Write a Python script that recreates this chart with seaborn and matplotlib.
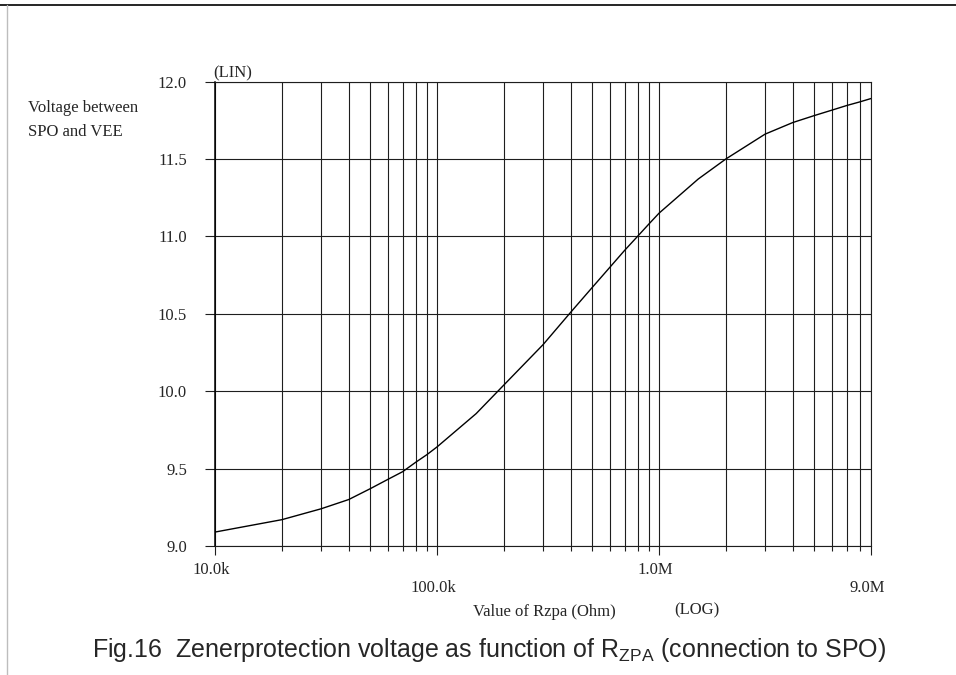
import numpy as np
import pandas as pd
import matplotlib
matplotlib.use("Agg")
import matplotlib.pyplot as plt
import seaborn as sns
from matplotlib.lines import Line2D

# Zener protection voltage (SPO to VEE) versus series resistor Rzpa
r_zpa = [10e3, 20e3, 30e3, 40e3, 50e3, 60e3, 70e3, 80e3, 90e3,
         100e3, 150e3, 200e3, 300e3, 400e3, 500e3, 600e3, 700e3, 800e3, 900e3,
         1.0e6, 1.5e6, 2.0e6, 3.0e6, 4.0e6, 5.0e6, 6.0e6, 7.0e6, 8.0e6, 9.0e6]
v_spo = [9.09, 9.17, 9.24, 9.30, 9.37, 9.43, 9.48, 9.54, 9.59,
         9.64, 9.855, 10.04, 10.30, 10.51, 10.67, 10.80, 10.91, 11.00, 11.08,
         11.15, 11.37, 11.50, 11.66, 11.735, 11.78, 11.815, 11.845, 11.868, 11.89]

y_ticks = [9.0, 9.5, 10.0, 10.5, 11.0, 11.5, 12.0]
x_grid = [m * 10.0 ** e for e in (4, 5, 6) for m in range(1, 10)]
x_major = [10e3, 100e3, 1e6, 9e6]
x_major_labels = ["10.0k", "100.0k", "1.0M", "9.0M"]
x_label_row = [0, 1, 0, 1]

sns.set_theme(style="white")
plt.rcParams["font.family"] = ["Liberation Serif", "DejaVu Serif"]

W, H = 956, 675
fig = plt.figure(figsize=(W / 100, H / 100), dpi=100)
fig.patch.set_facecolor("white")

ax_l, ax_r, ax_t, ax_b = 215, 871, 81.5, 546
ax = fig.add_axes([ax_l / W, 1 - ax_b / H, (ax_r - ax_l) / W, (ax_b - ax_t) / H])
ax.set_facecolor("white")

df = pd.DataFrame({"R": r_zpa, "V": v_spo})
sns.lineplot(data=df, x="R", y="V", ax=ax, color="black", linewidth=1.0)

ax.set_xscale("log")
ax.set_xlim(10e3, 9e6)
ax.set_ylim(9.0, 12.0)

grid_col = "#1e1e1e"
for x in x_grid:
    ax.axvline(x, color=grid_col, linewidth=0.8, zorder=1)
for y in y_ticks:
    ax.axhline(y, color=grid_col, linewidth=0.8, zorder=1)

for side in ("top", "right", "bottom"):
    ax.spines[side].set_visible(True)
    ax.spines[side].set_color(grid_col)
    ax.spines[side].set_linewidth(0.8)
ax.spines["left"].set_color("black")
ax.spines["left"].set_linewidth(1.1)

fs = 12

# y axis ticks and labels
ax.set_yticks(y_ticks)
ax.set_yticklabels([f"{v:.1f}" for v in y_ticks], fontsize=fs)
ax.tick_params(axis="y", which="major", left=True, length=7.2, width=0.8,
               color=grid_col, pad=13, direction="out")

# x axis ticks: short ticks on every grid line, longer on labelled ones
ax.xaxis.set_major_locator(matplotlib.ticker.FixedLocator(x_major))
ax.xaxis.set_minor_locator(matplotlib.ticker.FixedLocator(
    [x for x in x_grid if x not in x_major]))
ax.xaxis.set_major_formatter(matplotlib.ticker.NullFormatter())
ax.xaxis.set_minor_formatter(matplotlib.ticker.NullFormatter())
ax.tick_params(axis="x", which="major", bottom=True, length=6.5, width=0.8,
               color=grid_col, direction="out")
ax.tick_params(axis="x", which="minor", bottom=True, length=3.6, width=0.8,
               color=grid_col, direction="out")

for x, lab, row in zip(x_major, x_major_labels, x_label_row):
    ax.annotate(lab, xy=(x, 0), xycoords=("data", "axes fraction"),
                xytext=(-3, -17.5 - 13 * row), textcoords="offset points",
                ha="center", va="center", fontsize=fs)

ax.set_xlabel("")
ax.set_ylabel("")

# axis captions
fig.text(28 / W, 1 - 108 / H, "Voltage between", ha="left", va="center", fontsize=fs)
fig.text(28 / W, 1 - 132 / H, "SPO and VEE", ha="left", va="center", fontsize=fs)
fig.text(213 / W, 1 - 73 / H, "(LIN)", ha="left", va="center", fontsize=fs)
fig.text(544 / W, 1 - 612 / H, "Value of Rzpa (Ohm)", ha="center", va="center", fontsize=fs)
fig.text(697 / W, 1 - 610 / H, "(LOG)", ha="center", va="center", fontsize=fs)

# figure caption
fig.text(489 / W, 1 - 650 / H,
         r"Fig.16  Zenerprotection voltage as function of R$_{\mathregular{ZPA}}$ (connection to SPO)",
         ha="center", va="center", fontsize=18,
         family=["Liberation Sans", "DejaVu Sans"])

# page frame lines
fig.add_artist(Line2D([0, 1], [1 - 5 / H, 1 - 5 / H], transform=fig.transFigure,
                      color="black", linewidth=1.2))
fig.add_artist(Line2D([7 / W, 7 / W], [0, 1 - 5 / H], transform=fig.transFigure,
                      color="#bdbdbd", linewidth=1.0))

fig.savefig("out.png", dpi=100, facecolor="white")
